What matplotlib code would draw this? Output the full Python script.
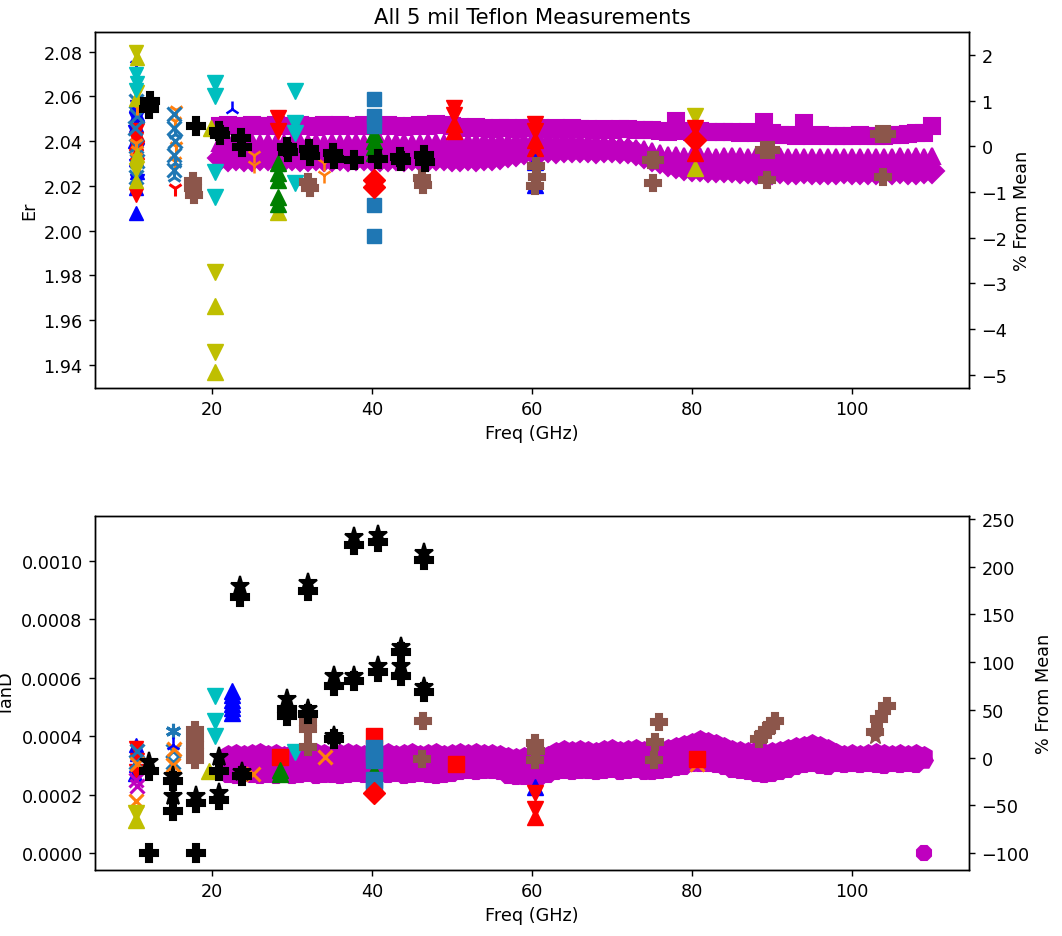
import matplotlib
matplotlib.use("Agg")
import matplotlib.pyplot as plt

# ---------------- data ----------------
er_mean = 2.0376
tand_mean = 0.0003265
er_lim = (1.9298, 2.0888)
tand_lim = (-0.0000578, 0.001153)
freq_lim = (5.4, 114.6)

# magenta broadband sweep (top, Er)
f_band_top = [21, 22, 23, 24, 25, 26, 27, 28, 29, 30, 31, 32, 33, 34, 35, 36, 37, 38, 39, 40,
              41, 42, 43, 44, 45, 46, 47, 48, 49, 50, 51, 52, 53, 54, 55, 56, 57, 58, 59, 60,
              61, 62, 63, 64, 65, 66, 67, 68, 69, 70, 71, 72, 73, 74, 75, 76, 77, 78, 79, 80,
              81, 82, 83, 84, 85, 86, 87, 88, 89, 90, 91, 92, 93, 94, 95, 96, 97, 98, 99, 100,
              101, 102, 103, 104, 105, 106, 107, 108, 109, 110]
er_band_sq = [2.0468, 2.0470, 2.0466, 2.0469, 2.0472, 2.0467, 2.0468, 2.0471, 2.0466, 2.0469,
              2.0472, 2.0468, 2.0465, 2.0470, 2.0468, 2.0471, 2.0467, 2.0469, 2.0473, 2.0468,
              2.0466, 2.0470, 2.0468, 2.0465, 2.0469, 2.0471, 2.0467, 2.0476, 2.0470, 2.0468,
              2.0461, 2.0458, 2.0462, 2.0459, 2.0456, 2.0460, 2.0458, 2.0455, 2.0459, 2.0457,
              2.0460, 2.0456, 2.0458, 2.0454, 2.0457,
              2.0452, 2.0454, 2.0451, 2.0453, 2.0450, 2.0452, 2.0454, 2.0449, 2.0451, 2.0448,
              2.0444, 2.0442, 2.0488, 2.0443, 2.0441, 2.0444, 2.0440, 2.0442, 2.0439, 2.0441,
              2.0438, 2.0440, 2.0437, 2.0483, 2.0436,
              2.0428, 2.0426, 2.0424, 2.0480, 2.0423, 2.0425, 2.0422, 2.0424, 2.0421, 2.0423,
              2.0425, 2.0422, 2.0424, 2.0421, 2.0425, 2.0428, 2.0431, 2.0434, 2.0438, 2.0468]
er_band_tri = [2.0393, 2.0396, 2.0391, 2.0394, 2.0397, 2.0392, 2.0395, 2.0390, 2.0393, 2.0396,
               2.0394, 2.0391, 2.0395, 2.0393, 2.0397, 2.0392, 2.0394, 2.0396, 2.0391, 2.0393,
               2.0395, 2.0392, 2.0394, 2.0397, 2.0393, 2.0391, 2.0395, 2.0394, 2.0392, 2.0396,
               2.0395, 2.0398, 2.0396, 2.0399, 2.0397, 2.0400, 2.0398, 2.0401, 2.0399, 2.0402,
               2.0400, 2.0403, 2.0401, 2.0404, 2.0402, 2.0400, 2.0398, 2.0396, 2.0393, 2.0389,
               2.0384, 2.0378, 2.0371, 2.0363, 2.0355,
               2.0346, 2.0340, 2.0336, 2.0333, 2.0335, 2.0332, 2.0334, 2.0331, 2.0333, 2.0335,
               2.0332, 2.0330, 2.0333, 2.0331, 2.0329, 2.0332, 2.0330, 2.0328, 2.0331, 2.0329,
               2.0327, 2.0330, 2.0328, 2.0331, 2.0329, 2.0327, 2.0330, 2.0328, 2.0331, 2.0329,
               2.0332, 2.0330, 2.0333, 2.0331, 2.0334]
er_band_dia = [2.0323, 2.0320, 2.0324, 2.0321, 2.0319, 2.0323, 2.0325, 2.0320, 2.0322, 2.0324,
               2.0321, 2.0319, 2.0323, 2.0322, 2.0320, 2.0324, 2.0321, 2.0323, 2.0325, 2.0320,
               2.0322, 2.0319, 2.0323, 2.0321, 2.0324, 2.0322, 2.0320, 2.0323, 2.0325, 2.0321,
               2.0322, 2.0324, 2.0320, 2.0323, 2.0326,
               2.0330, 2.0337, 2.0344, 2.0350, 2.0354, 2.0357,
               2.0359, 2.0357, 2.0360, 2.0358, 2.0361, 2.0359, 2.0357, 2.0360, 2.0358, 2.0356, 2.0354,
               2.0347, 2.0335, 2.0322, 2.0310, 2.0299, 2.0290, 2.0282,
               2.0277, 2.0274, 2.0272, 2.0273, 2.0270, 2.0269, 2.0267, 2.0266,
               2.0264, 2.0266, 2.0263, 2.0265, 2.0262, 2.0264, 2.0266, 2.0263, 2.0261, 2.0264,
               2.0262, 2.0265, 2.0263, 2.0261, 2.0264, 2.0262, 2.0265, 2.0263, 2.0266, 2.0264,
               2.0262, 2.0265, 2.0267]

# magenta broadband sweep (bottom, TanD)
f_band_bot = [22, 23, 24, 25, 26, 27, 28, 29, 30, 31, 32, 33, 34, 35, 36, 37, 38, 39, 40,
              41, 42, 43, 44, 45, 46, 47, 48, 49, 50, 51, 52, 53, 54, 55, 56, 57, 58, 59, 60,
              61, 62, 63, 64, 65, 66, 67, 68, 69, 70, 71, 72, 73, 74, 75, 76, 77, 78, 79, 80,
              81, 82, 83, 84, 85, 86, 87, 88, 89, 90, 91, 92, 93, 94, 95, 96, 97, 98, 99, 100,
              101, 102, 103, 104, 105, 106, 107, 108, 109]
tand_band_1 = [0.000340, 0.000343, 0.000338, 0.000341, 0.000345, 0.000339, 0.000342, 0.000337, 0.000341,
               0.000344, 0.000340, 0.000346, 0.000342, 0.000338, 0.000343, 0.000347, 0.000341, 0.000339, 0.000344,
               0.000342, 0.000346, 0.000340, 0.000343, 0.000345, 0.000339, 0.000342, 0.000344, 0.000338, 0.000341,
               0.000345, 0.000342, 0.000346, 0.000343, 0.000341, 0.000338,
               0.000333, 0.000330, 0.000332, 0.000329, 0.000331, 0.000337,
               0.000350, 0.000355, 0.000352, 0.000357, 0.000353, 0.000350, 0.000356, 0.000358, 0.000352,
               0.000355, 0.000359, 0.000354, 0.000351, 0.000356, 0.000360, 0.000365, 0.000372,
               0.000380, 0.000390, 0.000385, 0.000376, 0.000366,
               0.000356, 0.000352, 0.000349, 0.000351, 0.000347, 0.000350, 0.000354, 0.000358,
               0.000365, 0.000370, 0.000376, 0.000368, 0.000359,
               0.000344, 0.000340, 0.000343, 0.000339, 0.000342, 0.000345, 0.000341, 0.000338,
               0.000343, 0.000340, 0.000342, 0.000336]
tand_band_2 = [0.000304, 0.000307, 0.000302, 0.000305, 0.000309, 0.000303, 0.000306, 0.000301, 0.000305,
               0.000308, 0.000304, 0.000310, 0.000306, 0.000302, 0.000307, 0.000311, 0.000305, 0.000303, 0.000308,
               0.000306, 0.000310, 0.000304, 0.000307, 0.000309, 0.000303, 0.000306, 0.000308, 0.000302, 0.000305,
               0.000312, 0.000309, 0.000313, 0.000310, 0.000308, 0.000305,
               0.000297, 0.000294, 0.000296, 0.000293, 0.000295, 0.000301,
               0.000316, 0.000320, 0.000317, 0.000322, 0.000318, 0.000315, 0.000321, 0.000323, 0.000317,
               0.000320, 0.000324, 0.000319, 0.000316, 0.000321, 0.000325, 0.000330, 0.000336,
               0.000343, 0.000350, 0.000346, 0.000339, 0.000331,
               0.000320, 0.000316, 0.000312, 0.000309, 0.000305, 0.000308, 0.000314, 0.000320,
               0.000330, 0.000335, 0.000340, 0.000333, 0.000326,
               0.000322, 0.000319, 0.000323, 0.000320, 0.000324, 0.000321, 0.000318, 0.000322,
               0.000320, 0.000323, 0.000321, 0.000318]
tand_band_3 = [0.000268, 0.000265, 0.000270, 0.000266, 0.000263, 0.000267, 0.000264, 0.000269, 0.000265,
               0.000267, 0.000270, 0.000265, 0.000268, 0.000266, 0.000263, 0.000268, 0.000271, 0.000266, 0.000264,
               0.000269, 0.000267, 0.000270, 0.000265, 0.000268, 0.000270, 0.000266, 0.000264, 0.000268, 0.000270,
               0.000278, 0.000281, 0.000279, 0.000282, 0.000280, 0.000276,
               0.000262, 0.000259, 0.000261, 0.000258, 0.000260, 0.000266,
               0.000278, 0.000281, 0.000279, 0.000282, 0.000280, 0.000277, 0.000281, 0.000283, 0.000278,
               0.000280, 0.000284, 0.000279, 0.000277, 0.000281, 0.000285, 0.000290, 0.000296,
               0.000303, 0.000306, 0.000304, 0.000300, 0.000295,
               0.000284, 0.000280, 0.000276, 0.000272, 0.000268, 0.000271, 0.000277, 0.000283,
               0.000295, 0.000300, 0.000304, 0.000299, 0.000294,
               0.000303, 0.000300, 0.000304, 0.000301, 0.000305, 0.000302, 0.000299, 0.000303,
               0.000301, 0.000304, 0.000302, 0.0]

# black resonator measurements
f_k_top = [12.3, 12.2, 18.0, 20.9, 21.0, 23.6, 23.8, 29.4, 29.5, 32.1, 32.2, 35.1, 35.2,
           37.7, 40.7, 43.5, 43.6, 46.5, 46.6]
er_k_top = [2.0580, 2.0545, 2.0468, 2.0445, 2.0425, 2.0412, 2.0375, 2.0372, 2.0352, 2.0365,
            2.0335, 2.0345, 2.0318, 2.0314, 2.0322, 2.0330, 2.0310, 2.0338, 2.0305]
f_k_star = [12.2, 15.1, 15.1, 18.0, 20.9, 20.9, 23.5, 23.8, 29.4, 32.0, 32.0, 35.2, 35.2,
            37.7, 37.7, 40.7, 40.7, 43.6, 43.6, 46.5, 46.5]
tand_k_star = [0.000313, 0.000265, 0.000194, 0.000197, 0.000330, 0.000204, 0.000912, 0.000279,
               0.000527, 0.000925, 0.000493, 0.000605, 0.000401, 0.001080, 0.000605, 0.001088,
               0.000639, 0.000704, 0.000639, 0.001027, 0.000568]
f_k_plus = [12.2, 12.2, 15.1, 15.1, 18.0, 18.0, 20.9, 20.9, 23.5, 23.8, 29.4, 29.4, 32.0, 32.0,
            35.2, 35.2, 37.7, 37.7, 40.7, 40.7, 43.6, 43.6, 46.5, 46.5]
tand_k_plus = [0.000282, 0.0, 0.000248, 0.000143, 0.000170, 0.0, 0.000282, 0.000180, 0.000874,
               0.000262, 0.000493, 0.000469, 0.000895, 0.000476, 0.000571, 0.000391, 0.001054,
               0.000588, 0.001065, 0.000619, 0.000687, 0.000605, 0.001003, 0.000551]

# brown (split-cylinder style) measurements
f_br_top = [17.6, 17.7, 17.8, 32.0, 32.2, 46.2, 46.4, 60.5, 60.6, 60.4, 74.9, 75.4, 75.1,
            89.0, 89.9, 89.3, 103.4, 104.3, 103.8]
er_br_top = [2.0220, 2.0190, 2.0160, 2.0217, 2.0190, 2.0234, 2.0204, 2.0290, 2.0240, 2.0200,
             2.0314, 2.0314, 2.0213, 2.0358, 2.0358, 2.0226, 2.0433, 2.0433, 2.0239]
f_br_bot = [17.9, 17.9, 17.9, 17.9, 17.9, 32.0, 32.0, 32.0, 46.4, 46.2, 60.4, 60.5, 60.4,
            75.8, 75.3, 75.2, 88.3, 88.8, 89.3, 89.8, 90.3, 102.9, 103.4, 104.4]
tand_br_bot = [0.000422, 0.000395, 0.000370, 0.000345, 0.000320, 0.000449, 0.000425, 0.000364,
               0.000452, 0.000323, 0.000375, 0.000350, 0.000320, 0.000449, 0.000380, 0.000320,
               0.000390, 0.000405, 0.000420, 0.000435, 0.000450, 0.000415, 0.000460, 0.000503]

# ~10 GHz cluster (top)
f10_b_up = [10.5, 10.5, 10.6, 10.5, 10.4, 10.5, 10.6, 10.5]
er10_b_up = [2.008, 2.019, 2.026, 2.032, 2.040, 2.047, 2.052, 2.056]
f10_b_dn = [10.6, 10.5, 10.6, 10.4, 10.5, 10.6]
er10_b_dn = [2.022, 2.029, 2.036, 2.044, 2.050, 2.055]
f10_r_dn = [10.5, 10.6, 10.5, 10.6]
er10_r_dn = [2.016, 2.037, 2.041, 2.045]
f10_r_up = [10.6, 10.5, 10.6]
er10_r_up = [2.035, 2.039, 2.043]
f10_c0_x = [10.5, 10.6, 10.5, 10.4, 10.6, 10.5]
er10_c0_x = [2.024, 2.031, 2.038, 2.046, 2.051, 2.058]
f10_c1_tri = [10.6, 10.5, 10.6, 10.5, 10.6]
er10_c1_tri = [2.029, 2.033, 2.036, 2.039, 2.055]
f10_y_dn = [10.5, 10.6, 10.5]
er10_y_dn = [2.080, 2.062, 2.027]
f10_y_up = [10.6, 10.5, 10.6, 10.5]
er10_y_up = [2.077, 2.059, 2.034, 2.022]
f10_c_dn = [10.5, 10.6, 10.5]
er10_c_dn = [2.070, 2.066, 2.063]
f10_b_tri = [10.5]
er10_b_tri = [2.074]

# ~15 GHz cluster (top)
f15_c1_tri = [15.5, 15.4, 15.5, 15.4]
er15_c1_tri = [2.054, 2.049, 2.038, 2.031]
f15_c0_x = [15.3, 15.3, 15.4, 15.3, 15.3]
er15_c0_x = [2.052, 2.046, 2.040, 2.034, 2.027]
f15_c0_tri = [15.4, 15.4, 15.3]
er15_c0_tri = [2.043, 2.030, 2.024]
f15_r_tri = [15.4]
er15_r_tri = [2.019]

# other fixtures (top)
f_c_dn_top = [20.4, 20.4, 20.4, 20.4, 30.4, 30.4, 30.4, 30.4]
er_c_dn_top = [2.066, 2.060, 2.026, 2.015, 2.0623, 2.0480, 2.0438, 2.0213]
f_y_dn_top = [20.4, 20.4, 80.4]
er_y_dn_top = [1.9815, 1.9460, 2.0513]
f_y_up_top = [20.4, 20.4, 19.9, 28.3, 80.4]
er_y_up_top = [1.9665, 1.9370, 2.0460, 2.0085, 2.0279]
f_b_tri_top = [22.5]
er_b_tri_top = [2.0544]
f_c1_tri_top = [25.2, 25.2, 34.0, 34.0]
er_c1_tri_top = [2.0336, 2.0292, 2.0300, 2.0250]
f_r_dn_top = [28.3, 28.3, 50.3, 50.3, 60.4, 60.4, 80.4]
er_r_dn_top = [2.0504, 2.0447, 2.0548, 2.0515, 2.0478, 2.0445, 2.0460]
f_r_up_top = [50.3, 50.3, 60.4, 60.4, 80.4]
er_r_up_top = [2.0478, 2.0447, 2.0403, 2.0370, 2.0345]
f_g_up_top = [28.3, 28.3, 28.3, 28.3, 28.3, 40.3, 40.3, 40.3, 40.3]
er_g_up_top = [2.0300, 2.0257, 2.0226, 2.0150, 2.0120, 2.0433, 2.0400, 2.0375, 2.0345]
f_c0_sq_top = [40.3, 40.3, 40.3, 40.3, 40.3]
er_c0_sq_top = [2.0588, 2.0513, 2.0469, 2.0115, 1.9974]
f_r_dia_top = [40.3, 40.3, 80.4]
er_r_dia_top = [2.0226, 2.0195, 2.0403]
f_b_up_top = [60.4, 60.4]
er_b_up_top = [2.0305, 2.0204]

# ~10 / 15 GHz clusters (bottom)
f10_b_up_b = [10.5, 10.6, 10.5, 10.4]
tand10_b_up = [0.000370, 0.000340, 0.000300, 0.000270]
f10_r_dn_b = [10.5, 10.6, 10.5]
tand10_r_dn = [0.000360, 0.000320, 0.000280]
f10_c0_x_b = [10.6, 10.5]
tand10_c0_x = [0.000350, 0.000310]
f10_c1_x_b = [10.6, 10.5]
tand10_c1_x = [0.000306, 0.000177]
f10_m_x_b = [10.5, 10.6]
tand10_m_x = [0.000250, 0.000230]
f10_y_dn_b = [10.5]
tand10_y_dn = [0.000136]
f10_y_up_b = [10.5]
tand10_y_up = [0.000112]
f15_c0_ast_b = [15.2]
tand15_c0_ast = [0.000418]
f15_c0_x_b = [15.1, 15.2]
tand15_c0_x = [0.000350, 0.000310]
f15_c1_x_b = [15.3, 15.2]
tand15_c1_x = [0.000355, 0.000300]
f15_b_tri_b = [15.1]
tand15_b_tri = [0.000370]

# other fixtures (bottom)
f_c_dn_bot = [20.4, 20.4, 20.4, 30.4]
tand_c_dn_bot = [0.000537, 0.000450, 0.000400, 0.000347]
f_y_up_bot = [19.6]
tand_y_up_bot = [0.000280]
f_b_up_bot = [22.5, 22.5, 22.5, 22.5, 22.5, 22.5, 60.4]
tand_b_up_bot = [0.000555, 0.000540, 0.000525, 0.000510, 0.000495, 0.000480, 0.000225]
f_c1_x_bot = [25.1, 34.1, 80.6]
tand_c1_x_bot = [0.000270, 0.000330, 0.000305]
f_r_sq_bot = [28.5, 40.3, 50.5, 80.6]
tand_r_sq_bot = [0.000330, 0.000400, 0.000303, 0.000323]
f_g_up_bot = [28.5, 28.5, 40.3, 40.3]
tand_g_up_bot = [0.000285, 0.000270, 0.000280, 0.000265]
f_c0_sq_bot = [40.3, 40.3, 40.3, 40.3, 40.3]
tand_c0_sq_bot = [0.000360, 0.000340, 0.000320, 0.000250, 0.000230]
f_r_dia_bot = [40.3]
tand_r_dia_bot = [0.000205]
f_r_dn_bot = [60.4, 60.4]
tand_r_dn_bot = [0.000205, 0.000150]
f_r_up_bot = [60.4]
tand_r_up_bot = [0.000122]
f_br_star_bot = [102.8]
tand_br_star_bot = [0.000400]

# ---------------- figure ----------------
S = 1.27
plt.rcParams.update({
    "font.size": 10 * S,
    "axes.linewidth": 0.8 * S,
    "xtick.major.size": 3.5 * S,
    "ytick.major.size": 3.5 * S,
    "xtick.major.width": 0.8 * S,
    "ytick.major.width": 0.8 * S,
    "xtick.major.pad": 3.5 * S,
    "ytick.major.pad": 3.5 * S,
})

fig = plt.figure(figsize=(10.62, 9.37), dpi=100)
ax1 = fig.add_axes([0.0895, 0.585, 0.823, 0.380])
ax2 = fig.add_axes([0.0895, 0.0704, 0.823, 0.378])

BR = "#8c564b"


def pts(ax, x, y, color, marker, ms=10, mew=1.0):
    ax.plot(x, y, linestyle="none", color=color, marker=marker, markersize=ms,
            markeredgewidth=mew)


# ---- top: Er ----
pts(ax1, f_band_top, er_band_sq, "m", "s", 11, 1.5)
pts(ax1, f_band_top, er_band_tri, "m", "^", 12, 1.5)
pts(ax1, f_band_top, er_band_dia, "m", "D", 12, 1.5)

pts(ax1, f10_b_up, er10_b_up, "b", "^", 10)
pts(ax1, f10_b_dn, er10_b_dn, "b", "v", 10)
pts(ax1, f10_b_tri, er10_b_tri, "b", "1", 11, 1.8)
pts(ax1, f10_r_dn, er10_r_dn, "r", "v", 10)
pts(ax1, f10_r_up, er10_r_up, "r", "^", 10)
pts(ax1, f10_c0_x, er10_c0_x, "C0", "x", 10, 2.2)
pts(ax1, f10_c1_tri, er10_c1_tri, "C1", "1", 11, 2.2)
pts(ax1, f10_y_dn, er10_y_dn, "y", "v", 10)
pts(ax1, f10_y_up, er10_y_up, "y", "^", 10)
pts(ax1, f10_c_dn, er10_c_dn, "c", "v", 10)

pts(ax1, f15_c1_tri, er15_c1_tri, "C1", "1", 11, 2.2)
pts(ax1, f15_c0_x, er15_c0_x, "C0", "x", 10, 2.2)
pts(ax1, f15_c0_tri, er15_c0_tri, "C0", "2", 11, 2.2)
pts(ax1, f15_r_tri, er15_r_tri, "r", "1", 11, 2.2)

pts(ax1, f_c_dn_top, er_c_dn_top, "c", "v", 11)
pts(ax1, f_y_dn_top, er_y_dn_top, "y", "v", 11)
pts(ax1, f_y_up_top, er_y_up_top, "y", "^", 11)
pts(ax1, f_b_tri_top, er_b_tri_top, "b", "2", 11, 1.8)
pts(ax1, f_c1_tri_top, er_c1_tri_top, "C1", "1", 11, 1.8)
pts(ax1, f_r_dn_top, er_r_dn_top, "r", "v", 11)
pts(ax1, f_r_up_top, er_r_up_top, "r", "^", 11)
pts(ax1, f_g_up_top, er_g_up_top, "g", "^", 11)
pts(ax1, f_c0_sq_top, er_c0_sq_top, "C0", "s", 10)
pts(ax1, f_r_dia_top, er_r_dia_top, "r", "D", 11)
pts(ax1, f_b_up_top, er_b_up_top, "b", "^", 11)
pts(ax1, f_br_top, er_br_top, BR, "P", 12, 1.5)
pts(ax1, f_k_top, er_k_top, "k", "P", 13, 1.5)

# ---- bottom: TanD ----
pts(ax2, f_band_bot, tand_band_1, "m", "h", 12, 1.5)
pts(ax2, f_band_bot, tand_band_2, "m", "H", 12, 1.5)
pts(ax2, f_band_bot, tand_band_3, "m", "8", 11, 1.5)

pts(ax2, f10_b_up_b, tand10_b_up, "b", "^", 10)
pts(ax2, f10_r_dn_b, tand10_r_dn, "r", "v", 10)
pts(ax2, f10_c0_x_b, tand10_c0_x, "C0", "x", 10, 2.2)
pts(ax2, f10_c1_x_b, tand10_c1_x, "C1", "x", 10, 2.2)
pts(ax2, f10_m_x_b, tand10_m_x, "m", "x", 10, 2.2)
pts(ax2, f10_y_dn_b, tand10_y_dn, "y", "v", 11)
pts(ax2, f10_y_up_b, tand10_y_up, "y", "^", 11)
pts(ax2, f15_c0_ast_b, tand15_c0_ast, "C0", (6, 2, 0), 11, 2.2)
pts(ax2, f15_c0_x_b, tand15_c0_x, "C0", "x", 10, 2.2)
pts(ax2, f15_c1_x_b, tand15_c1_x, "C1", "x", 10, 2.2)
pts(ax2, f15_b_tri_b, tand15_b_tri, "b", "2", 11, 1.8)

pts(ax2, f_c_dn_bot, tand_c_dn_bot, "c", "v", 11)
pts(ax2, f_y_up_bot, tand_y_up_bot, "y", "^", 11)
pts(ax2, f_b_up_bot, tand_b_up_bot, "b", "^", 11)
pts(ax2, f_c1_x_bot, tand_c1_x_bot, "C1", "x", 10, 2.2)
pts(ax2, f_r_sq_bot, tand_r_sq_bot, "r", "s", 11)
pts(ax2, f_g_up_bot, tand_g_up_bot, "g", "^", 11)
pts(ax2, f_c0_sq_bot, tand_c0_sq_bot, "C0", "s", 11)
pts(ax2, f_r_dia_bot, tand_r_dia_bot, "r", "D", 11)
pts(ax2, f_r_dn_bot, tand_r_dn_bot, "r", "v", 11)
pts(ax2, f_r_up_bot, tand_r_up_bot, "r", "^", 11)
pts(ax2, f_br_bot, tand_br_bot, BR, "P", 12, 1.5)
pts(ax2, f_br_star_bot, tand_br_star_bot, BR, "*", 12)
pts(ax2, f_k_plus, tand_k_plus, "k", "P", 13, 1.5)
pts(ax2, f_k_star, tand_k_star, "k", "*", 14, 1.5)

# ---- axes, twin axes ----
ax1.set_xlim(*freq_lim)
ax2.set_xlim(*freq_lim)
ax1.set_ylim(*er_lim)
ax2.set_ylim(*tand_lim)

ax1r = ax1.twinx()
ax1r.set_ylim((er_lim[0] / er_mean - 1) * 100, (er_lim[1] / er_mean - 1) * 100)
ax2r = ax2.twinx()
ax2r.set_ylim((tand_lim[0] / tand_mean - 1) * 100, (tand_lim[1] / tand_mean - 1) * 100)

ax1.set_title("All 5 mil Teflon Measurements", fontsize=12 * S)
ax1.set_xlabel("Freq (GHz)")
ax1.set_ylabel("Er")
ax1r.set_ylabel("% From Mean")
ax2.set_xlabel("Freq (GHz)")
ax2.set_ylabel("TanD")
ax2r.set_ylabel("% From Mean")

fig.savefig("out.png", dpi=100)
